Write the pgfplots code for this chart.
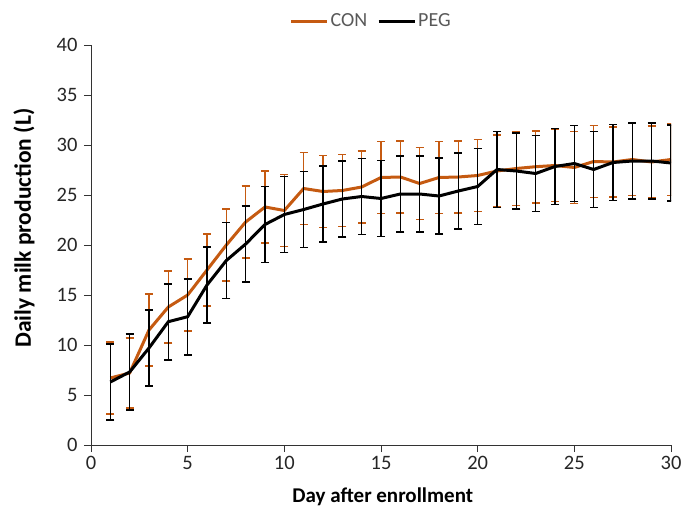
\documentclass[border=0pt]{standalone}
\usepackage{fontspec}
\setmainfont{Carlito}
\usepackage{pgfplots}
\pgfplotsset{compat=1.18}
\definecolor{conorange}{RGB}{197,90,17}
\definecolor{leggray}{RGB}{89,89,89}
\newcommand{\fs}{\fontsize{20.5bp}{24bp}\selectfont}
\newcommand{\fx}{\fontsize{21bp}{25bp}\selectfont}
\newcommand{\fy}{\fontsize{23.5bp}{27bp}\selectfont}
\newcommand{\fl}{\fontsize{20bp}{24bp}\selectfont}
\begin{document}
\begin{tikzpicture}
\useasboundingbox (-91bp,-67bp) rectangle (592bp,445bp);
\begin{axis}[
  at={(0,0)}, anchor=south west,
  scale only axis, width=580bp, height=400bp,
  xmin=0, xmax=30, ymin=0, ymax=40,
  xtick={0,5,...,30}, ytick={0,5,...,40},
  axis lines*=left,
  axis line style={line width=0.8bp, black!80},
  tick align=outside,
  major tick length=7bp,
  every tick/.style={line width=0.8bp, black!80},
  /pgf/number format/assume math mode=true,
  tick label style={font=\fs, text=black!85},
  xticklabel style={yshift=-1bp},
  yticklabel style={xshift=-3bp},
  xlabel={\textbf{Day after enrollment}},
  ylabel={\textbf{Daily milk production (L)}},
  xlabel style={font=\fx, at={(axis description cs:0.503,-0.13)}, anchor=center},
  ylabel style={font=\fy, at={(axis description cs:-0.1155,0.5425)}, anchor=center},
  legend style={draw=none, fill=none, at={(axis description cs:0.483,1.06)}, anchor=center,
    legend columns=2, font=\fl, text=leggray, inner sep=0pt,
    /tikz/every odd column/.append style={column sep=0pt},
    /tikz/every even column/.append style={column sep=8bp},
    legend cell align=left},
  legend image code/.code={\draw[#1, line width=3bp] (0bp,0bp) -- (36bp,0bp);},
  error bars/y dir=both, error bars/y explicit,
]
\addplot[conorange, line width=3bp, mark=none,
  error bars/error bar style={line width=1.6bp, conorange},
  error bars/error mark options={rotate=90, mark size=4bp, line width=1.6bp, conorange}]
  table[x=d, y=m, y error=e] {
d m e
1 6.70 3.6
2 7.20 3.5
3 11.50 3.6
4 13.80 3.6
5 15.00 3.6
6 17.50 3.6
7 20.00 3.6
8 22.30 3.6
9 23.80 3.6
10 23.45 3.6
11 25.65 3.6
12 25.35 3.6
13 25.45 3.6
14 25.80 3.6
15 26.75 3.6
16 26.80 3.6
17 26.15 3.6
18 26.75 3.6
19 26.80 3.6
20 26.95 3.6
21 27.40 3.6
22 27.65 3.7
23 27.83 3.6
24 27.95 3.6
25 27.75 3.6
26 28.35 3.6
27 28.30 3.5
28 28.55 3.6
29 28.30 3.6
30 28.55 3.6
};
\addlegendentry{CON}
\addplot[black, line width=3bp, mark=none,
  error bars/error bar style={line width=1.6bp, black},
  error bars/error mark options={rotate=90, mark size=4bp, line width=1.6bp, black}]
  table[x=d, y=m, y error=e] {
d m e
1 6.30 3.8
2 7.30 3.8
3 9.70 3.8
4 12.33 3.8
5 12.83 3.8
6 16.00 3.8
7 18.45 3.8
8 20.10 3.8
9 22.05 3.8
10 23.05 3.8
11 23.55 3.8
12 24.10 3.8
13 24.60 3.8
14 24.85 3.8
15 24.65 3.8
16 25.10 3.8
17 25.10 3.8
18 24.90 3.8
19 25.40 3.8
20 25.85 3.8
21 27.55 3.8
22 27.40 3.8
23 27.15 3.8
24 27.85 3.8
25 28.15 3.8
26 27.55 3.8
27 28.25 3.8
28 28.40 3.8
29 28.40 3.8
30 28.20 3.8
};
\addlegendentry{PEG}
\end{axis}
\end{tikzpicture}
\end{document}
